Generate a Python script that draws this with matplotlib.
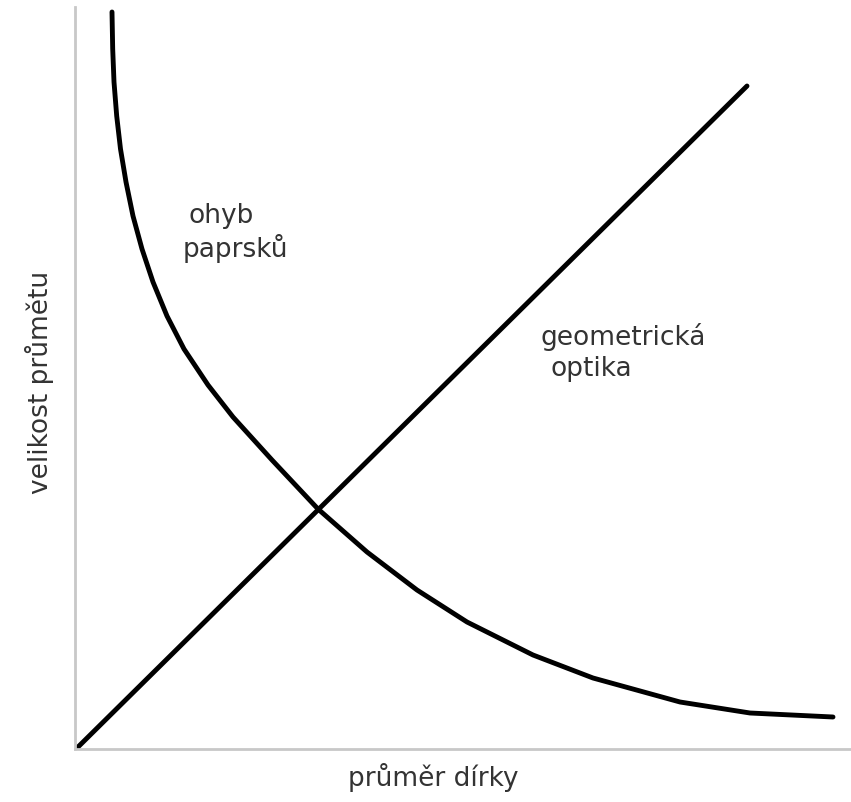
import matplotlib
matplotlib.use("Agg")
import matplotlib.pyplot as plt

# Data (arbitrary units)
geo_x = [0.3, 67.2]
geo_y = [0.2, 66.3]

ohyb_x = [3.70, 3.77, 3.90, 4.17, 4.55, 5.10, 5.80, 6.70, 7.80, 9.20, 10.90,
          13.30, 15.80, 19.70, 24.30, 29.20, 34.20, 39.20, 45.80, 51.80,
          60.50, 67.50, 75.80]
ohyb_y = [73.70, 70.00, 66.70, 63.30, 60.00, 56.70, 53.30, 50.00, 46.70, 43.30,
          40.00, 36.40, 33.20, 28.90, 24.00, 19.70, 15.90, 12.70, 9.40, 7.10,
          4.70, 3.60, 3.20]

xlabel = "průměr dírky"
ylabel = "velikost průmětu"
label_curve = ["ohyb", "paprsků"]
label_line = ["geometrická", "optika"]

plt.rcParams['font.family'] = ['DejaVu Sans']

fig = plt.figure(figsize=(8.51, 8.03), dpi=100)
ax = fig.add_axes([75/851, 53/803, 776/851, 742/803])
ax.set_xlim(0, 77.6)
ax.set_ylim(0, 74.2)

ax.plot(geo_x, geo_y, color='black', lw=3.5, solid_capstyle='round')
ax.plot(ohyb_x, ohyb_y, color='black', lw=3.5, solid_capstyle='round',
        solid_joinstyle='round')

for s in ['top', 'right']:
    ax.spines[s].set_visible(False)
for s in ['left', 'bottom']:
    ax.spines[s].set_color('#c8c8c8')
    ax.spines[s].set_linewidth(2)
ax.set_xticks([])
ax.set_yticks([])

tc = '#333333'
ax.text(11.3, 53.4, label_curve[0], fontsize=19, color=tc, ha='left', va='center')
ax.text(10.8, 50.1, label_curve[1], fontsize=19, color=tc, ha='left', va='center')
ax.text(46.5, 41.25, label_line[0], fontsize=19, color=tc, ha='left', va='center')
ax.text(47.5, 38.1, label_line[1], fontsize=19, color=tc, ha='left', va='center')

ax.text(35.8, -2.8, xlabel, fontsize=19, color=tc, ha='center', va='center', clip_on=False)
ax.text(-3.5, 36.8, ylabel, fontsize=19, color=tc, ha='center', va='center',
        rotation=90, clip_on=False)

fig.savefig("out.png", dpi=100)
